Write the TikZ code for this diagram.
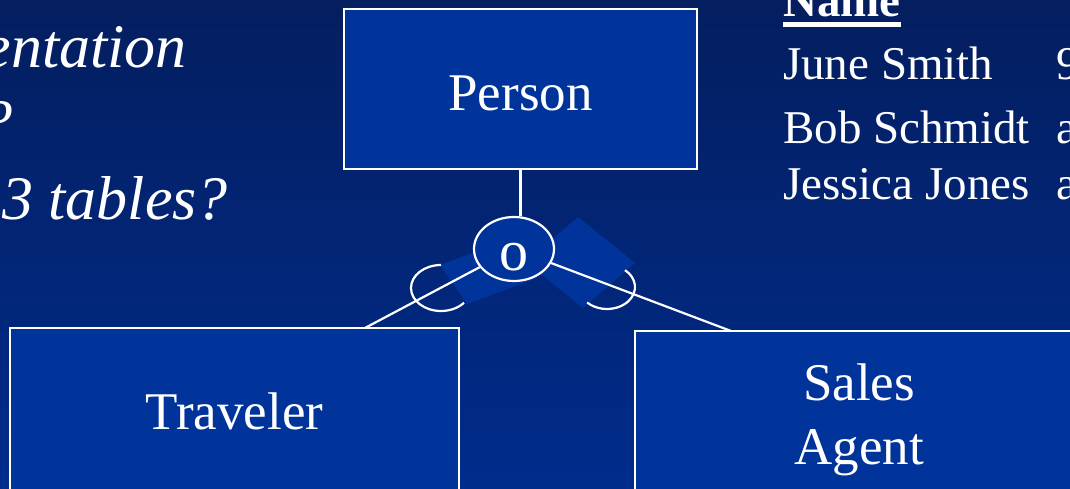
\documentclass[tikz,border=0pt]{standalone}
\usepackage{fontspec}
\setmainfont{Liberation Serif}
\usetikzlibrary{shapes.geometric}

\definecolor{bgtop}{RGB}{4,30,95}
\definecolor{bgbot}{RGB}{0,44,140}
\definecolor{boxblue}{RGB}{0,52,155}

\tikzset{
  entity/.style={draw=white, line width=2.2pt, fill=boxblue, text=white,
    font=\fontsize{53}{64}\selectfont, align=center},
  disjoint/.style={ellipse, draw=white, line width=2.2pt, fill=boxblue, text=white,
    minimum width=80pt, minimum height=64pt, inner sep=0pt,
    text height=44pt, text depth=0pt, font=\fontsize{58}{60}\selectfont},
  link/.style={draw=white, line width=2.2pt},
  words/.style={text=white, inner sep=0pt},
  cell/.style={words, anchor=base west, font=\fontsize{47}{56}\selectfont},
  question/.style={words, anchor=base east, font=\fontsize{62}{74}\selectfont\itshape},
}

\begin{document}
\begin{tikzpicture}[x=1pt,y=1pt]
\useasboundingbox (0,0) rectangle (1070,489);
\clip (0,0) rectangle (1070,489);
\shade[top color=bgtop, bottom color=bgbot] (0,0) rectangle (1070,489);

% patches behind the o
\fill[boxblue] (440,224) -- (467,185) -- (537,211) -- (510,250) -- cycle;
\fill[boxblue] (526,227) -- (578,272) -- (635,226) -- (583,181) -- cycle;

% entities
\node[entity, minimum width=353pt, minimum height=160pt, text height=44pt, text depth=0pt] (person) at (520.5,400) {Person};
\node[entity, minimum width=449pt, minimum height=166pt] (traveler) at (234.5,78) {Traveler};
\node[entity, minimum width=448pt, minimum height=178pt] (agent) at (859,69) {Sales\\Agent};

\node[disjoint] (dj) at (514,240) {o};

\coordinate (tvtop) at (365,161);
\coordinate (agtop) at (731,158);

\draw[link] (person.south) -- (person.south |- dj.north);
\draw[link] (dj) -- (tvtop);
\draw[link] (dj) -- (agtop);

% subset arcs
\draw[link] (441,201) ++(90:30 and 23) arc[start angle=90, end angle=320, x radius=30, y radius=23];
\draw[link] (607,202) ++(50:28 and 22) arc[start angle=50, end angle=-135, x radius=28, y radius=22];

% text on the left
\node[question] (q1) at (187,421) {entation};
\node[question] (q2) at (13,346) {?};
\node[question] (q3) at (228,269) {3 tables?};

% table
\node[cell, font=\fontsize{47}{56}\selectfont\bfseries] (hdr) at (783,472) {Name};
\draw[white, line width=5pt] ([yshift=-7.5pt]hdr.base west) -- ([yshift=-7.5pt]hdr.base east);

\foreach \who/\what/\yy [count=\i] in {June Smith/9/409, Bob Schmidt/a/345, Jessica Jones/a/289}{
\node[cell] (nm\i) at (783,\yy) {\who};
\node[cell] (val\i) at (1056,\yy) {\what};
}
\end{tikzpicture}
\end{document}
